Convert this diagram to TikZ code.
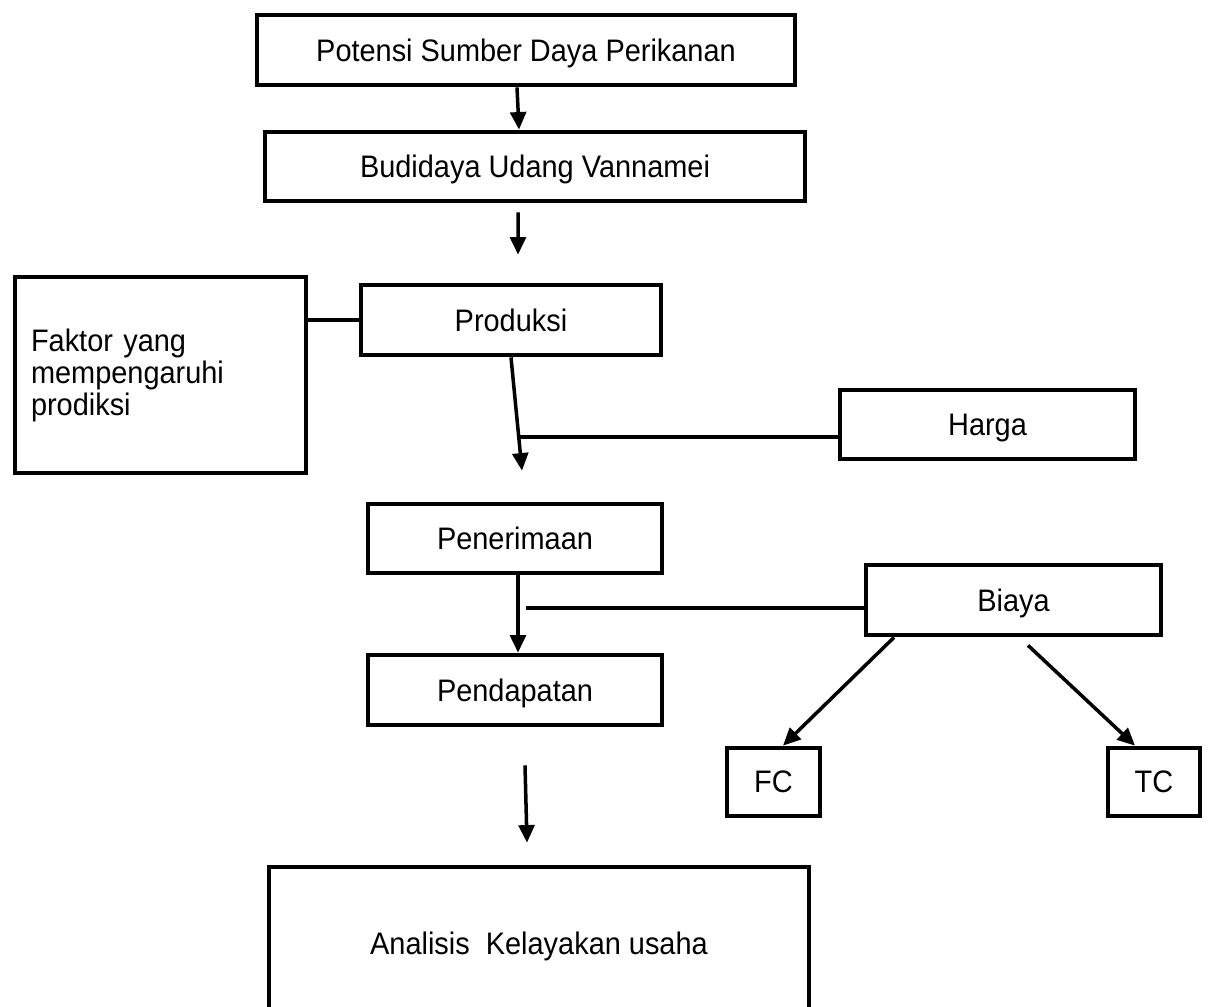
\documentclass[tikz,border=0pt]{standalone}
\usepackage{fontspec}
\setmainfont{Liberation Sans}[FakeStretch=0.93]
\usetikzlibrary{arrows.meta}
\tikzset{
  boxbase/.style={draw, line width=2.7pt, inner sep=0pt, font=\fontsize{17.7pt}{20pt}\selectfont},
  box/.style={boxbase, text depth=0pt},
  conn/.style={line width=2pt},
  arr/.style={conn, -{Triangle[length=10pt,width=9pt]}},
}
\begin{document}
\begin{tikzpicture}[x=0.02cm, y=-0.02cm]
\useasboundingbox (0,0) rectangle (1210,1007);
\clip (0,0) rectangle (1210,1007);
\fill[white] (0,0) rectangle (1210,1007);

\node[box, minimum width=10.76cm, minimum height=1.4cm] (pot) at (526,50) {Potensi Sumber Daya Perikanan};
\node[box, minimum width=10.8cm, minimum height=1.38cm] (bud) at (535,166.5) {Budidaya Udang Vannamei};
\node[box, minimum width=6.0cm, minimum height=1.4cm] (prod) at (511,320) {Produksi};
\node[boxbase, minimum width=5.82cm, minimum height=3.92cm, text width=5.18cm, inner xsep=0.32cm, align=left,
      font=\fontsize{17.7pt}{18.2pt}\selectfont] (fak) at (160.5,375) {Faktor yang\\mempengaruhi\\prodiksi};
\node[box, minimum width=5.9cm, minimum height=1.38cm] (harga) at (987.5,424.5) {Harga};
\node[box, minimum width=5.88cm, minimum height=1.38cm] (pen) at (515,538.5) {Penerimaan};
\node[box, minimum width=5.9cm, minimum height=1.4cm] (biaya) at (1013.5,600) {Biaya};
\node[box, minimum width=5.88cm, minimum height=1.4cm] (pend) at (515,690) {Pendapatan};
\node[box, minimum width=1.86cm, minimum height=1.36cm] (fc) at (773.5,782) {FC};
\node[box, minimum width=1.84cm, minimum height=1.36cm] (tc) at (1154,782) {TC};
\node[box, minimum width=10.8cm, minimum height=3.04cm] (ana) at (539,943) {Analisis\ \ Kelayakan usaha};

\coordinate (j1) at (520,437);
\coordinate (j2) at (526,608);

\draw[arr] ([xshift=-0.18cm]pot.south) -- ([xshift=-0.32cm]bud.north);
\draw[arr] ([xshift=-0.34cm,yshift=-0.18cm]bud.south) -- ([xshift=0.14cm,yshift=0.56cm]prod.north);
\draw[conn] (fak.east |- prod.west) -- (prod.west);
\draw[arr] (prod.south) -- ([xshift=0.14cm,yshift=0.62cm]pen.north);
\draw[conn] (j1) -- (j1 -| harga.west);
\draw[arr] ([xshift=0.06cm]pen.south) -- ([xshift=0.06cm]pend.north);
\draw[conn] (j2) -- (j2 -| biaya.west);
\draw[arr] ([xshift=-2.39cm]biaya.south) -- ([xshift=0.19cm]fc.north);
\draw[arr] ([xshift=0.29cm,yshift=-0.16cm]biaya.south) -- ([xshift=-0.38cm]tc.north);
\draw[arr] ([xshift=0.2cm,yshift=-0.76cm]pend.south) -- ([xshift=-0.24cm,yshift=0.44cm]ana.north);
\end{tikzpicture}
\end{document}
